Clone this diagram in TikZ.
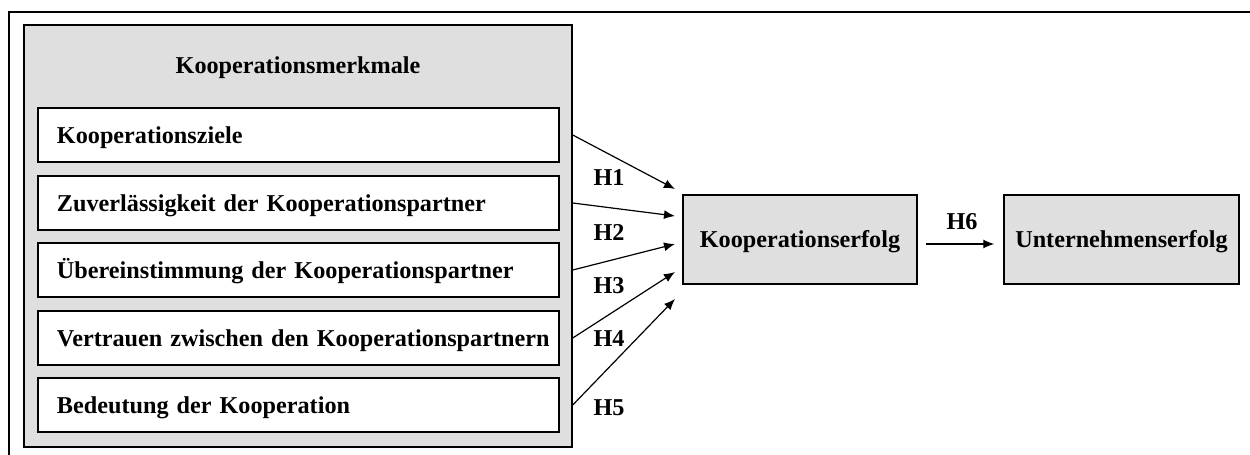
\documentclass[tikz,border=0pt]{standalone}
\usepackage{fontspec}
\setmainfont{Liberation Serif}
\usetikzlibrary{arrows.meta}
\definecolor{boxgray}{RGB}{223,223,223}
\tikzset{
  lbl/.style={font=\fontsize{12.1}{14}\selectfont\bfseries, inner sep=0pt, text height=8pt, text depth=0pt},
  wbox/.style={draw, line width=0.75pt, fill=white, minimum width=260.5pt, minimum height=27pt,
    inner xsep=0.25pt, inner ysep=0pt, text width=260pt, align=left, text height=8pt, text depth=0pt,
    execute at begin node={\hspace*{9.25pt}}, font=\fontsize{12.1}{14}\selectfont\bfseries},
  gbox/.style={draw, line width=0.75pt, fill=boxgray, inner sep=0pt, text height=8pt, text depth=0pt,
    font=\fontsize{12.1}{14}\selectfont\bfseries},
  arr/.style={line width=0.6pt, -{Latex[length=5.5pt,width=4.5pt]}}
}
\begin{document}
\begin{tikzpicture}[x=0.5pt,y=-0.5pt]
\useasboundingbox (0,0) rectangle (1250,455);
% outer frame (cropped)
\coordinate (fb) at (9,455);
\coordinate (fc) at (9,12);
\coordinate (fr) at (1250,12);
\draw[line width=0.8pt] (fb) -- (fc) -- (fr);
% grey group box
\node[gbox, minimum width=274pt, minimum height=211pt] (g) at (298,236) {};
\node[lbl] (title) at (298,66) {Kooperationsmerkmale};
% item boxes
\node[wbox] (b1) at (298.5,135) {Kooperationsziele};
\node[wbox] (b2) at (298.5,203) {Zuverlässigkeit der Kooperationspartner};
\node[wbox] (b3) at (298.5,270) {Übereinstimmung der Kooperationspartner};
\node[wbox] (b4) at (298.5,338) {Vertrauen zwischen den Kooperationspartnern};
\node[wbox] (b5) at (298.5,405) {Bedeutung der Kooperation};
% outcome boxes
\node[gbox, minimum width=117pt, minimum height=44.5pt] (ke) at (800,239.5) {Kooperationserfolg};
\node[gbox, minimum width=117.5pt, minimum height=44.5pt] (ue) at (1121.5,239.5) {Unternehmenserfolg};
% arrow targets
\coordinate (e1) at (675,189);
\coordinate (e2) at (675,216);
\coordinate (e3) at (675,244);
\coordinate (e4) at (675,272);
\coordinate (e5) at (675,299);
\draw[arr] (b1 -| g.east) -- (e1);
\draw[arr] (b2 -| g.east) -- (e2);
\draw[arr] (b3 -| g.east) -- (e3);
\draw[arr] (b4 -| g.east) -- (e4);
\draw[arr] (b5 -| g.east) -- (e5);
\node[lbl] (h1) at (609,177) {H1};
\node[lbl] (h2) at (609,232) {H2};
\node[lbl] (h3) at (609,285) {H3};
\node[lbl] (h4) at (609,338) {H4};
\node[lbl] (h5) at (609,407) {H5};
\draw[arr, shorten <=4pt, shorten >=4.5pt] ([yshift=-2.25pt]ke.east) -- ([yshift=-2.25pt]ke.east -| ue.west);
\node[lbl] (h6) at (962,221) {H6};
\end{tikzpicture}
\end{document}
